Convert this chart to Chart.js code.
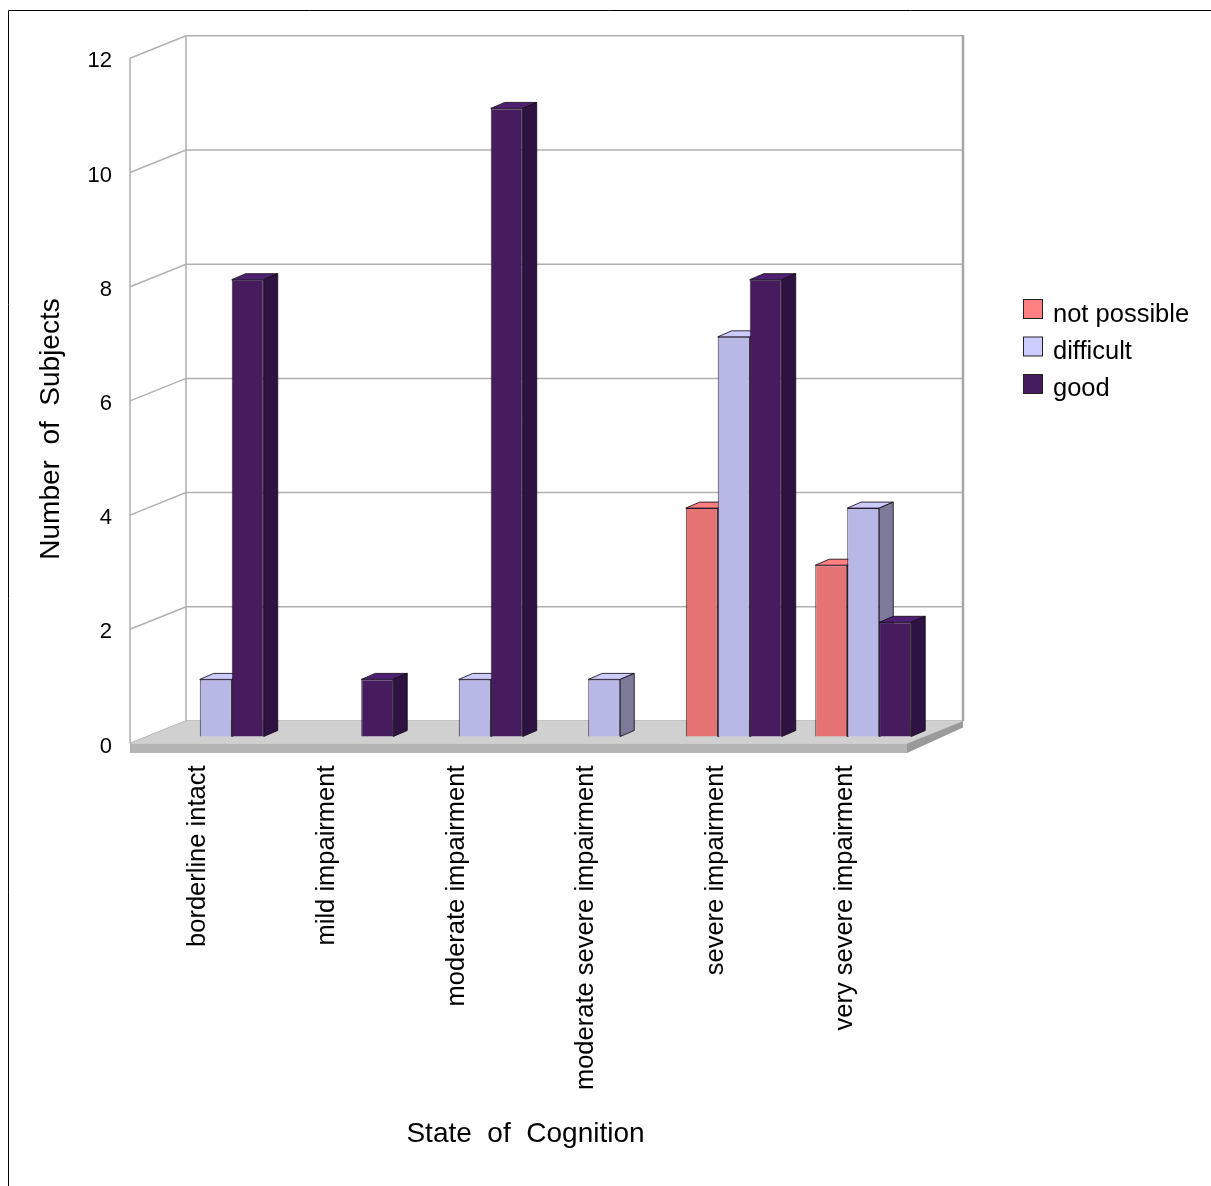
<!DOCTYPE html>
<html>
<head>
<meta charset="utf-8">
<title>State of Cognition</title>
<script src="https://cdn.jsdelivr.net/npm/chart.js@4.4.0/dist/chart.umd.min.js"></script>
<style>
  html, body { margin: 0; padding: 0; background: #ffffff; }
  canvas { display: block; }
</style>
</head>
<body>
<canvas id="chart" width="1211" height="1186"></canvas>
<script>
// ---- data ----
const categories = [
  'borderline intact',
  'mild impairment',
  'moderate impairment',
  'moderate severe impairment',
  'severe impairment',
  'very severe impairment'
];
const seriesNames = ['not possible', 'difficult', 'good'];
const notPossible = [0, 0, 0, 0, 4, 3];
const difficult   = [1, 0, 1, 1, 7, 4];
const good        = [8, 1, 11, 0, 8, 2];
const yTicks = [0, 2, 4, 6, 8, 10, 12];
const yTitle = 'Number  of  Subjects';
const xTitle = 'State  of  Cognition';

// ---- styling ----
const FONT = '"Liberation Sans", Arial, sans-serif';
const faces = [
  { front: '#e57373', top: '#ff8080', side: '#9c4d4d', key: '#ff8080' },
  { front: '#b8b8e6', top: '#ccccff', side: '#7b7b99', key: '#ccccff' },
  { front: '#461c5f', top: '#4f2072', side: '#2e1342', key: '#461c60' }
];
const WALL = { dx: 56, dy: -22.5 };             // depth of the back wall
const BAR  = { dx: 21, dy: -7, ddx: 14, ddy: -6 }; // bar placement and bar depth
const EDGE = 'rgba(20,10,25,0.85)';

function poly(ctx, pts, fill, stroke) {
  ctx.beginPath();
  ctx.moveTo(pts[0][0], pts[0][1]);
  for (let i = 1; i < pts.length; i++) ctx.lineTo(pts[i][0], pts[i][1]);
  ctx.closePath();
  if (fill) { ctx.fillStyle = fill; ctx.fill(); }
  if (stroke) { ctx.strokeStyle = stroke; ctx.lineWidth = 1; ctx.stroke(); }
}

// 3D walls, floor and boxes drawn from the chart's own scales and bar elements
const scene = {
  id: 'scene',
  beforeDraw(chart) {
    const ctx = chart.ctx;
    ctx.save();
    ctx.strokeStyle = '#000';
    ctx.lineWidth = 1;
    ctx.beginPath();
    ctx.moveTo(8.5, chart.height);
    ctx.lineTo(8.5, 10.5);
    ctx.lineTo(chart.width, 10.5);
    ctx.stroke();
    ctx.restore();
  },
  beforeDatasetsDraw(chart) {
    const { ctx } = chart;
    const xs = chart.scales.x, ys = chart.scales.y;
    const L = xs.left, R = xs.right;
    const y0 = ys.getPixelForValue(yTicks[0]);
    const yMax = ys.getPixelForValue(yTicks[yTicks.length - 1]);
    const { dx, dy } = WALL;

    ctx.save();
    // grid on the side and back walls
    ctx.strokeStyle = '#b0b0b0';
    ctx.lineWidth = 1.5;
    yTicks.forEach(v => {
      const py = ys.getPixelForValue(v);
      ctx.beginPath();
      ctx.moveTo(L, py);
      ctx.lineTo(L + dx, py + dy);
      ctx.lineTo(R + dx, py + dy);
      ctx.stroke();
    });
    ctx.beginPath();
    ctx.moveTo(L, y0); ctx.lineTo(L, yMax);
    ctx.moveTo(L + dx, y0 + dy); ctx.lineTo(L + dx, yMax + dy);
    ctx.stroke();
    ctx.lineWidth = 2.5;
    ctx.strokeStyle = '#a6a6a6';
    ctx.beginPath();
    ctx.moveTo(R + dx, y0 + dy); ctx.lineTo(R + dx, yMax + dy - 0.75);
    ctx.stroke();

    // floor slab
    poly(ctx, [[L, y0], [L + dx, y0 + dy], [R + dx, y0 + dy], [R, y0]], '#d0d0d0');
    poly(ctx, [[L, y0], [R, y0], [R, y0 + 9.5], [L, y0 + 9.5]], '#b4b4b4');
    poly(ctx, [[R, y0], [R + dx, y0 + dy], [R + dx, y0 + dy + 6.5], [R, y0 + 9.5]], '#9a9a9a');

    // boxes, left to right so nearer faces cover hidden sides
    const metas = chart.data.datasets.map((d, i) => chart.getDatasetMeta(i));
    categories.forEach((c, i) => {
      metas.forEach((meta, d) => {
        const v = chart.data.datasets[d].data[i];
        if (!v) return;
        const bar = meta.data[i];
        const p = bar.getProps(['x', 'y', 'width', 'base'], true);
        const x0 = p.x - p.width / 2 + BAR.dx, x1 = p.x + p.width / 2 + BAR.dx;
        const yt = p.y + BAR.dy, yb = p.base + BAR.dy;
        ctx.save();
        ctx.translate(BAR.dx, BAR.dy);
        bar.draw(ctx);
        ctx.restore();
        poly(ctx, [[x0, yt], [x0 + BAR.ddx, yt + BAR.ddy], [x1 + BAR.ddx, yt + BAR.ddy], [x1, yt]], faces[d].top, EDGE);
        poly(ctx, [[x1, yt], [x1 + BAR.ddx, yt + BAR.ddy], [x1 + BAR.ddx, yb + BAR.ddy], [x1, yb]], faces[d].side, EDGE);
      });
    });
    ctx.restore();
    return false;
  },
  afterDraw(chart) {
    const ctx = chart.ctx;
    ctx.save();
    ctx.fillStyle = '#000';
    ctx.font = '28px ' + FONT;
    ctx.textBaseline = 'alphabetic';
    ctx.textAlign = 'center';
    ctx.fillText(xTitle, 525.5, 1142);
    ctx.save();
    ctx.translate(59, 429);
    ctx.rotate(-Math.PI / 2);
    ctx.fillText(yTitle, 0, 0);
    ctx.restore();

    // legend
    ctx.textAlign = 'left';
    ctx.font = '25.5px ' + FONT;
    chart.data.datasets.forEach((ds, i) => {
      const by = 299 + i * 37.5;
      ctx.fillStyle = faces[i].key;
      ctx.fillRect(1023.5, by + 0.5, 19, 19);
      ctx.strokeStyle = '#222';
      ctx.lineWidth = 1;
      ctx.strokeRect(1023.5, by + 0.5, 19, 19);
      ctx.fillStyle = '#000';
      ctx.fillText(ds.label, 1053, 321.5 + i * 37);
    });
    ctx.restore();
  }
};

const seriesValues = [notPossible, difficult, good];

new Chart(document.getElementById('chart'), {
  type: 'bar',
  data: {
    labels: categories,
    datasets: seriesNames.map((name, i) => ({
      label: name,
      data: seriesValues[i],
      backgroundColor: faces[i].front,
      borderColor: EDGE,
      borderWidth: 1,
      categoryPercentage: 0.741,
      barPercentage: 1
    }))
  },
  options: {
    responsive: false,
    animation: false,
    events: [],
    layout: { padding: { left: 0, top: 58.3, right: 304, bottom: 0 } },
    plugins: {
      legend: { display: false },
      tooltip: { enabled: false }
    },
    scales: {
      x: {
        grid: { display: false },
        border: { display: false },
        ticks: {
          color: '#000',
          font: { family: FONT, size: 25.5 },
          minRotation: 90,
          maxRotation: 90,
          autoSkip: false,
          padding: 14,
          labelOffset: 3
        },
        afterFit(s) { s.height = 1186 - 743.5; }
      },
      y: {
        min: 0,
        max: 12,
        grid: { display: false },
        border: { display: false },
        afterBuildTicks(s) { s.ticks = yTicks.map(v => ({ value: v })); },
        ticks: {
          color: '#000',
          font: { family: FONT, size: 22 },
          padding: 10,
          labelOffset: 3
        },
        afterFit(s) { s.width = 130; }
      }
    }
  },
  plugins: [scene]
});
</script>
</body>
</html>
